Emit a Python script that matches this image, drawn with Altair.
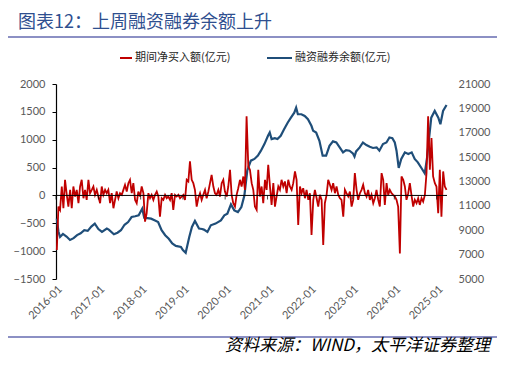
import altair as alt
import pandas as pd

# ---------------- data ----------------
title_text = "图表12：上周融资融券余额上升"
legend_red = "期间净买入额(亿元)"
legend_blue = "融资融券余额(亿元)"
source_text = "资料来源：WIND，太平洋证券整理"

tick_years = [2016, 2017, 2018, 2019, 2020, 2021, 2022, 2023, 2024, 2025]
tick_dates = ["2016-01-01", "2017-01-01", "2018-01-01", "2019-01-01", "2020-01-01",
              "2021-01-01", "2022-01-01", "2023-01-01", "2024-01-01", "2025-01-01"]
left_ticks = [-1500, -1000, -500, 0, 500, 1000, 1500, 2000]
right_ticks = [5000, 7000, 9000, 11000, 13000, 15000, 17000, 19000, 21000]

# weekly-ish net buy (sampled every ~2 weeks), 2016-01 .. 2025-03
red_2016_2018 = [-980, -200, -260, 160, -230, 280, 10, -200, 100, -230, 160, -20, 100, -140,
                 160, 280, -50, 100, -80, 280, 40, 100, 160, 10, 100, -20, -140, 160, 10, 100,
                 40, 100, -140, 40, -230, -80, 70, -50, 40, 10, 100, 190, 70, 220, 280, 40,
                 220, -80, -140, 70, -20, 160, 40, -470, -320, 40, -50, 10, -80, 10]
red_2018_2020 = [70, -20, -380, -50, -80, 10, -50, -20, -80, 40, -260, 10, -20, 10, -50, -20,
                 10, -80, 280, 250, 610, 280, 220, 100, -200, -50, 40, -80, 10, 100, -50, 70,
                 220, 370, 160, 40, 10, 100, -20, 220, 280, 70, -20, 160, 460, 10, -140, -200,
                 10, 130, 280, 160, 340, 100, 1420, 520, 460]
red_2020_2022 = [220, 100, -200, -260, 460, -20, 160, -140, 280, 100, 550, 160, -170, 220,
                 -200, -20, 160, 100, 280, 160, 250, 40, 280, 160, 100, 220, 430, 280, -530,
                 160, 40, 130, -50, 100, -80, 40, -710, -80, 100, -50, -200, 10, -80, -890,
                 -140, 10, 280, 190, 100, 220, 40, 160, 10, -50, -80, -380, 100]
red_2022_2025 = [40, -20, 70, -200, -80, 400, 100, -80, 40, 100, 190, 40, -20, 100, -80, 10,
                 -140, -50, 100, -80, -200, 400, 280, -170, 220, 10, 100, 40, 10, -20, -80,
                 -200, -1040, 340, 280, 160, -80, 40, 220, 10, -200, -80, -140, -50, -170, -50,
                 -110, 10, 400, 1420, 460, 1030, 340, 220, 160, -320, 460, -380, 430, 160, 100]
red_values = red_2016_2018 + red_2018_2020 + red_2020_2022 + red_2022_2025
red_dates = pd.date_range("2016-01-08", "2025-03-27", periods=len(red_values)).strftime("%Y-%m-%d")

blue_dates = [
    "2016-01-08", "2016-01-22", "2016-02-05", "2016-03-01", "2016-04-01", "2016-05-01",
    "2016-06-01", "2016-07-01", "2016-08-01", "2016-09-01", "2016-10-01", "2016-11-01",
    "2016-12-01", "2017-01-01", "2017-02-01", "2017-03-15", "2017-04-01", "2017-05-15",
    "2017-06-15", "2017-07-15", "2017-08-15", "2017-09-15", "2017-10-15", "2017-11-15",
    "2017-12-15", "2018-01-15", "2018-02-01", "2018-03-01", "2018-04-01", "2018-05-01",
    "2018-06-01", "2018-07-01", "2018-08-01", "2018-09-01", "2018-10-01", "2018-11-01",
    "2018-12-15", "2019-01-01", "2019-01-25", "2019-02-25", "2019-03-20", "2019-04-15",
    "2019-05-20", "2019-06-15", "2019-07-01", "2019-08-01", "2019-08-30", "2019-10-10",
    "2019-11-25", "2019-12-25", "2020-01-20", "2020-02-20", "2020-03-20", "2020-04-20",
    "2020-05-20", "2020-06-15", "2020-07-10", "2020-07-25", "2020-08-10", "2020-09-10",
    "2020-10-10", "2020-11-05", "2020-12-05", "2021-01-05", "2021-01-20", "2021-02-05",
    "2021-03-05", "2021-03-28", "2021-04-25", "2021-05-25", "2021-06-25", "2021-07-22",
    "2021-08-20", "2021-09-05", "2021-09-20", "2021-10-20", "2021-11-18", "2021-12-16",
    "2022-01-15", "2022-01-30", "2022-02-25", "2022-03-25", "2022-04-22", "2022-05-22",
    "2022-06-20", "2022-07-20", "2022-08-18", "2022-09-16", "2022-10-15", "2022-11-10",
    "2022-12-10", "2023-01-08", "2023-01-22", "2023-02-05", "2023-03-08", "2023-04-05",
    "2023-05-05", "2023-06-03", "2023-07-01", "2023-08-01", "2023-08-25", "2023-09-25",
    "2023-10-25", "2023-11-20", "2023-12-15", "2024-01-05", "2024-01-20", "2024-02-08",
    "2024-03-01", "2024-04-01", "2024-05-01", "2024-05-30", "2024-06-25", "2024-07-22",
    "2024-08-22", "2024-09-20", "2024-10-10", "2024-10-25", "2024-11-15", "2024-12-15",
    "2025-01-15", "2025-02-02", "2025-02-25", "2025-03-27",
]
blue_values = [
    9950, 8900, 8450, 8700, 8480, 8200,
    8350, 8600, 8750, 9000, 8950, 9300,
    9545, 9100, 8860, 9137, 9050, 8672,
    8800, 9000, 9450, 9676, 10084, 10150,
    10222, 10769, 10034, 10000, 9950, 9814,
    9676, 9000, 8590, 8300, 7913, 7720,
    7636, 7366, 7148, 8452, 9268, 9760,
    9137, 9100, 9055, 8860, 9406, 9545,
    9814, 10222, 10360, 11120, 10630, 10490,
    10900, 11854, 13894, 14300, 14710, 14850,
    15120, 15530, 16070, 16750, 17020, 16480,
    16560, 16480, 16750, 17300, 17840, 18240,
    18650, 19060, 18520, 18520, 18380, 18110,
    17570, 17160, 17020, 16340, 15120, 15120,
    15930, 16290, 16200, 15800, 15390, 15580,
    15530, 15310, 15040, 15470, 15800, 16200,
    15990, 15850, 15750, 15800, 15530, 16070,
    16200, 16610, 16560, 16200, 15530, 14110,
    14850, 15390, 15260, 15390, 14850, 14570,
    14110, 13670, 14980, 16340, 18240, 18790,
    18240, 17700, 18790, 19280,
]

red_df = pd.DataFrame({"date": list(red_dates), "v": red_values})
blue_df = pd.DataFrame({"date": blue_dates, "v": blue_values})
tick_df = pd.DataFrame({"date": tick_dates, "v": [0] * len(tick_dates)})
zero_df = pd.DataFrame({"v": [0]})
one = pd.DataFrame({"k": [0]})

# ---------------- style ----------------
RED = "#C00000"
BLUE = "#1F4E79"
GRAY = "#595959"
NUM_FONT = "Lato"
CJK = "Noto Sans CJK SC"

x_scale = alt.Scale(
    type="utc",
    domain=[alt.DateTime(year=2016, month=1, date=1, utc=True),
            alt.DateTime(year=2025, month=3, date=31, utc=True)],
)
x_axis = alt.Axis(
    values=[alt.DateTime(year=y, month=1, date=1, utc=True) for y in tick_years],
    format="%Y-%m", labelAngle=-45, domain=False, ticks=False, grid=False,
    labelOverlap=False, labelColor=GRAY, labelFont=NUM_FONT, labelFontSize=11,
    labelPadding=4, title=None,
)
x_enc = alt.X("date:T", scale=x_scale, axis=x_axis)

blue_line = alt.Chart(blue_df).mark_line(color=BLUE, strokeWidth=2.2).encode(
    x=x_enc,
    y=alt.Y("v:Q", scale=alt.Scale(domain=[5000, 21000], nice=False, zero=False),
            axis=alt.Axis(values=right_ticks, orient="right", domain=False, ticks=False,
                          grid=False, format="d", labelOverlap=False, labelColor=GRAY,
                          labelFont=NUM_FONT, labelFontSize=11, labelPadding=11,
                          title=None)),
)

left_axis = alt.Axis(values=left_ticks, orient="left", domainColor="#000000",
                     domainWidth=1.2, tickColor="#000000", tickSize=4, grid=False,
                     format="d", labelOverlap=False, labelColor=GRAY,
                     labelFont=NUM_FONT, labelFontSize=11, labelPadding=7, title=None)
left_enc = alt.Y("v:Q", scale=alt.Scale(domain=[-1500, 2000], nice=False), axis=left_axis)

red_line = alt.Chart(red_df).mark_line(color=RED, strokeWidth=1.8).encode(x=x_enc, y=left_enc)
zero_rule = alt.Chart(zero_df).mark_rule(color="#000000", strokeWidth=1).encode(y=left_enc)
zero_ticks = alt.Chart(tick_df).mark_tick(color="#000000", orient="vertical", size=4,
                                          thickness=1, yOffset=2).encode(x=x_enc, y=left_enc)
left_group = alt.layer(red_line, zero_rule, zero_ticks).resolve_scale(y="shared")

# plot origin is at page (56, 84)
def text_layer(txt, x, y, **kw):
    return alt.Chart(pd.DataFrame({"t": [txt]})).mark_text(
        align="left", baseline="middle", **kw
    ).encode(x=alt.value(x), y=alt.value(y), text="t:N")

def hline(x1, x2, y, color, w):
    return alt.Chart(one).mark_rule(color=color, strokeWidth=w).encode(
        x=alt.value(x1), x2=alt.value(x2), y=alt.value(y)
    )

title = text_layer(title_text, -38, -61, font=CJK, fontSize=18, color="#2F4F8F")
title_rule = hline(-51, 444, -47, "#8C90C4", 2)
leg_red_line = hline(64, 76, -26, RED, 2)
leg_red_text = text_layer(legend_red, 79, -26, font=CJK, fontSize=11, color="#262626")
leg_blue_line = hline(211, 236, -26, BLUE, 2)
leg_blue_text = text_layer(legend_blue, 239, -26, font=CJK, fontSize=11, color="#262626")
foot_rule = hline(-51, 444, 253, "#8C90C4", 2)
foot_text = text_layer(source_text, 169, 262, font=CJK, fontSize=17, fontStyle="italic",
                       color="#000000")

chart = alt.layer(
    blue_line, left_group,
    title, title_rule, leg_red_line, leg_red_text, leg_blue_line, leg_blue_text,
    foot_rule, foot_text,
).resolve_scale(y="independent").properties(
    width=391, height=195,
    autosize=alt.AutoSizeParams(type="none"),
    padding={"left": 48, "top": 76, "right": 50, "bottom": 76},
).configure_view(strokeWidth=0)

chart.save("out.html", embed_options={"renderer": "svg", "actions": False})
